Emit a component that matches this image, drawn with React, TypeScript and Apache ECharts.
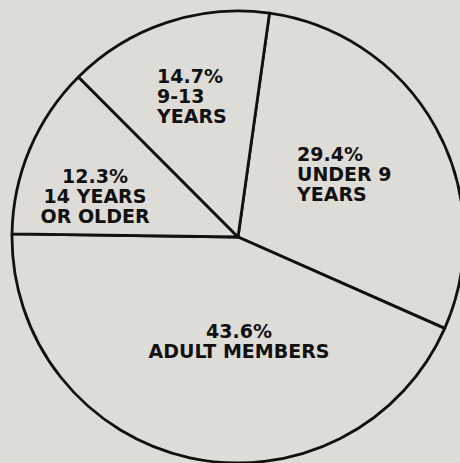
import React, { useEffect, useRef } from "react";
import * as echarts from "echarts";

const categories = ["UNDER 9\nYEARS", "ADULT MEMBERS", "14 YEARS\nOR OLDER", "9-13\nYEARS"];
const shares = [29.4, 43.6, 12.3, 14.7];

// label anchor (text placement only)
const labelSpots = [
  { x: 297, y: 174, align: "left" },
  { x: 239, y: 341, align: "center" },
  { x: 95, y: 196, align: "center" },
  { x: 157, y: 96, align: "left" },
];

export default function App() {
  const ref = useRef<HTMLDivElement>(null);
  useEffect(() => {
    document.body.style.margin = "0";
    const chart = echarts.init(ref.current!, null, { renderer: "svg" });
    chart.setOption({
      animation: false,
      backgroundColor: "#dddcd7",
      series: [
        {
          type: "pie",
          center: [238, 237],
          radius: 226,
          startAngle: 82,
          clockwise: true,
          percentPrecision: 1,
          avoidLabelOverlap: false,
          emphasis: { disabled: true },
          itemStyle: { color: "#dddcd7", borderColor: "#111", borderWidth: 2.8 },
          labelLine: { show: false },
          label: {
            show: true,
            position: "inside",
            formatter: "{d}%\n{b}",
            color: "#111",
            fontFamily: "DejaVu Sans",
            fontWeight: "bold",
            fontSize: 19,
            lineHeight: 20,
          },
          labelLayout: (p: any) => {
            const s = labelSpots[p.dataIndex];
            return { x: s.x, y: s.y, align: s.align, verticalAlign: "middle" };
          },
          data: categories.map((c, i) => ({ name: c, value: shares[i] })),
        },
      ],
    });
    return () => chart.dispose();
  }, []);
  return <div ref={ref} style={{ width: 460, height: 463 }} />;
}
